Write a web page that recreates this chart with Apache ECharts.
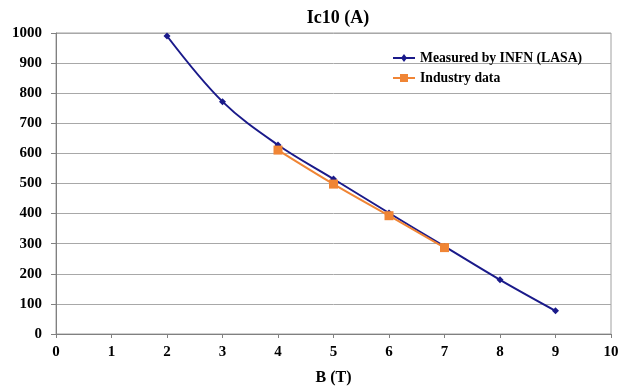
<!DOCTYPE html>
<html><head><meta charset="utf-8">
<script src="https://cdn.jsdelivr.net/npm/echarts@6/dist/echarts.min.js"></script>
<style>html,body{margin:0;padding:0;background:#fff}#c{width:620px;height:388px}</style>
</head><body><div id="c"></div>
<script>
const measuredB = [2, 3, 4, 5, 6, 7, 8, 9];
const measuredIc = [990, 772, 628, 515, 402, 291, 180, 77];
const industryB = [4, 5, 6, 7];
const industryIc = [611, 498, 393, 287];
const xTicks = [0, 1, 2, 3, 4, 5, 6, 7, 8, 9, 10];
const yTicks = [0, 100, 200, 300, 400, 500, 600, 700, 800, 900, 1000];

const font = 'Liberation Serif';
const chart = echarts.init(document.getElementById('c'), null, {renderer: 'canvas'});
chart.setOption({
  animation: false,
  backgroundColor: '#fff',
  title: {
    text: 'Ic10 (A)', left: 333, top: 4, textAlign: 'center',
    textStyle: {fontFamily: font, fontWeight: 'bold', fontSize: 18, color: '#000'}
  },
  legend: {
    orient: 'vertical', left: 388, top: 46, itemGap: 6, itemWidth: 22, itemHeight: 10,
    textStyle: {fontFamily: font, fontWeight: 'bold', fontSize: 13.7, color: '#000'},
    data: [
      {name: 'Measured by INFN (LASA)', icon: 'path://M0,4 L22,4 L22,6 L0,6 Z M11,1 L14,5 L11,9 L8,5 Z'},
      {name: 'Industry data', icon: 'path://M0,4 L22,4 L22,6 L0,6 Z M7,1 L15,1 L15,9 L7,9 Z'}
    ]
  },
  grid: {left: 56, right: 9, top: 33, bottom: 54, show: true, borderColor: '#a0a0a0', borderWidth: 1,
    containLabel: false, outerBoundsMode: 'none'},
  xAxis: {
    type: 'value', min: xTicks[0], max: xTicks[xTicks.length - 1], interval: 1,
    name: 'B (T)', nameLocation: 'middle', nameGap: 36,
    nameTextStyle: {fontFamily: font, fontWeight: 'bold', fontSize: 16, color: '#000'},
    axisLine: {show: true, lineStyle: {color: '#808080'}},
    axisTick: {show: true, length: 4, lineStyle: {color: '#808080'}},
    axisLabel: {fontFamily: font, fontWeight: 'bold', fontSize: 15, color: '#000', margin: 11},
    splitLine: {show: false}
  },
  yAxis: {
    type: 'value', min: yTicks[0], max: yTicks[yTicks.length - 1], interval: 100,
    axisLine: {show: true, lineStyle: {color: '#808080'}},
    axisTick: {show: true, length: 5, lineStyle: {color: '#808080'}},
    axisLabel: {fontFamily: font, fontWeight: 'bold', fontSize: 15, color: '#000', margin: 14,
      formatter: v => String(v)},
    splitLine: {show: true, lineStyle: {color: '#a8a8a8', width: 1}}
  },
  series: [
    {
      name: 'Measured by INFN (LASA)', type: 'line', smooth: 0.35,
      data: measuredB.map((b, i) => [b, measuredIc[i]]),
      symbol: 'diamond', symbolSize: 7,
      lineStyle: {color: '#1a1a8a', width: 2},
      itemStyle: {color: '#1a1a8a'}, z: 2
    },
    {
      name: 'Industry data', type: 'line', smooth: 0.35,
      data: industryB.map((b, i) => [b, industryIc[i]]),
      symbol: 'rect', symbolSize: 9,
      lineStyle: {color: '#f08535', width: 2},
      itemStyle: {color: '#f08535'}, z: 3
    }
  ]
});
</script></body></html>
